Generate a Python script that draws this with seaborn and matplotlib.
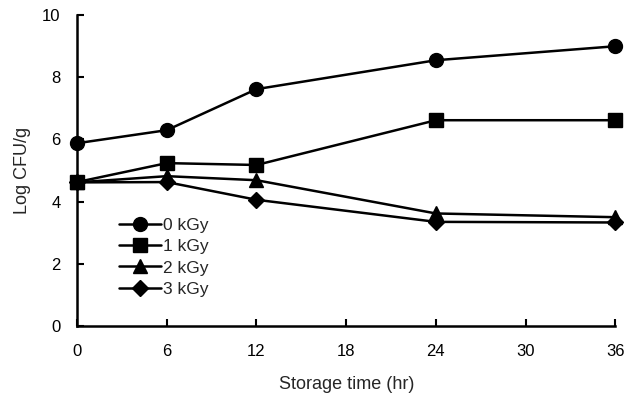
import matplotlib
matplotlib.use("Agg")
import matplotlib.pyplot as plt
import seaborn as sns
import pandas as pd

hours = [0, 6, 12, 24, 36]
dose_labels = ["0 kGy", "1 kGy", "2 kGy", "3 kGy"]
kgy0 = [5.88, 6.30, 7.62, 8.55, 9.00]
kgy1 = [4.63, 5.24, 5.18, 6.62, 6.62]
kgy2 = [4.62, 4.82, 4.69, 3.62, 3.50]
kgy3 = [4.62, 4.63, 4.06, 3.35, 3.33]
x_ticks = [0, 6, 12, 18, 24, 30, 36]
y_ticks = [0, 2, 4, 6, 8, 10]

rows = []
for lab, vals in zip(dose_labels, [kgy0, kgy1, kgy2, kgy3]):
    for h, v in zip(hours, vals):
        rows.append({"Storage time (hr)": h, "Log CFU/g": v, "dose": lab})
df = pd.DataFrame(rows)

sns.set_theme(style="white")
plt.rcParams['font.family'] = ['Liberation Sans', 'DejaVu Sans']

fig = plt.figure(figsize=(6.37, 3.99), dpi=100)
ax = fig.add_axes([0.121, 0.183, 0.845, 0.779])

markers = {"0 kGy": "o", "1 kGy": "s", "2 kGy": "^", "3 kGy": "D"}
sizes = {"0 kGy": 10, "1 kGy": 9.5, "2 kGy": 9.5, "3 kGy": 8}
for lab in dose_labels:
    sub = df[df["dose"] == lab]
    sns.lineplot(data=sub, x="Storage time (hr)", y="Log CFU/g", ax=ax,
                 color="black", marker=markers[lab], markersize=sizes[lab],
                 markeredgecolor="black", markerfacecolor="black",
                 markeredgewidth=1.0, linewidth=1.8, label=lab)

ax.set_xlim(0, 36)
ax.set_ylim(0, 10)
ax.set_xticks(x_ticks)
ax.set_yticks(y_ticks)
for s in ["top", "right"]:
    ax.spines[s].set_visible(False)
for s in ["left", "bottom"]:
    ax.spines[s].set_color("black")
    ax.spines[s].set_linewidth(1.8)
ax.tick_params(axis="both", direction="in", length=5, width=1.5, colors="black",
               labelsize=12, left=True, bottom=True)
ax.tick_params(axis="x", pad=13)
ax.tick_params(axis="y", pad=12)
ax.set_xlabel("Storage time (hr)", fontsize=13, labelpad=12)
ax.set_ylabel("Log CFU/g", fontsize=13, labelpad=8)

leg = ax.legend(loc="upper left", bbox_to_anchor=(0.065, 0.37), frameon=False,
                fontsize=12.5, handlelength=2.4, handletextpad=0.15,
                labelspacing=0.35, borderaxespad=0)
for line in ax.lines:
    line.set_clip_on(False)

fig.savefig("out.png", dpi=100)
